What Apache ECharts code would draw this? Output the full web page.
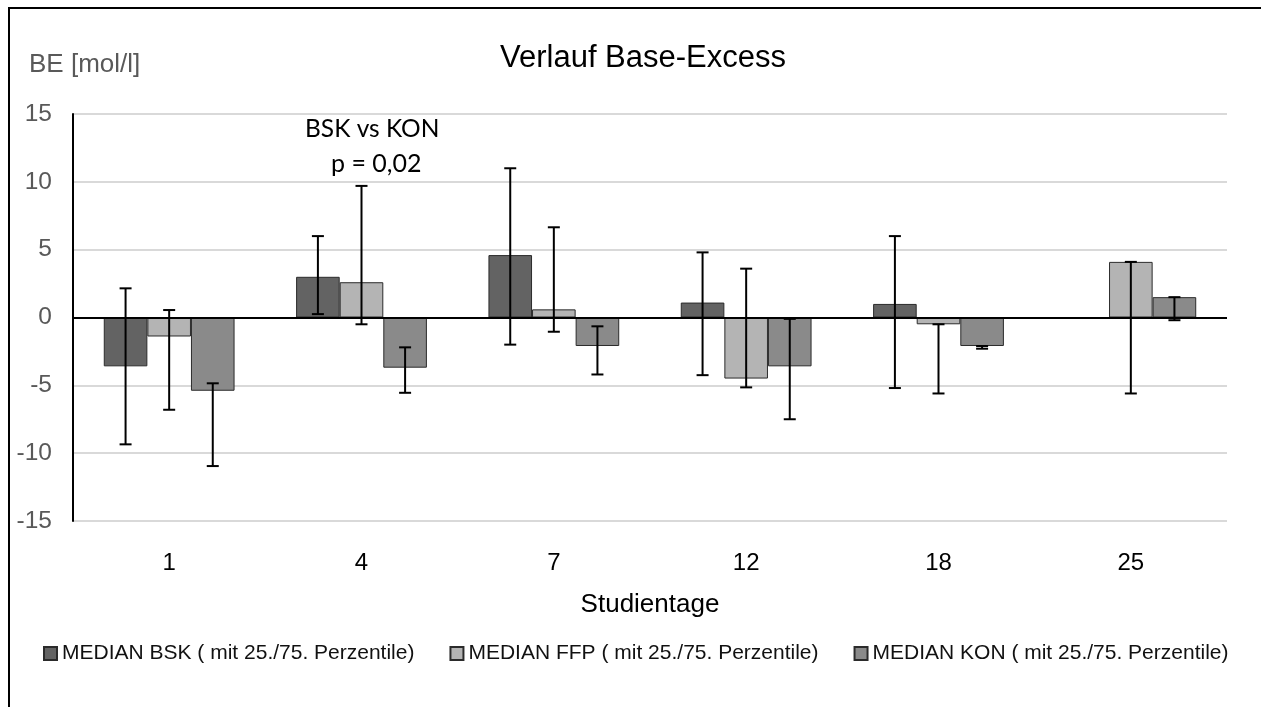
<!DOCTYPE html>
<html>
<head>
<meta charset="utf-8">
<script src="https://cdn.jsdelivr.net/npm/echarts@6/dist/echarts.min.js"></script>
<style>
  html, body { margin: 0; padding: 0; background: #fff; }
  #chart { width: 1261px; height: 707px; }
</style>
</head>
<body>
<div id="chart"></div>
<script>
// Study days on the category axis
const days = ['1', '4', '7', '12', '18', '25'];

// Median base excess per group, with 25th / 75th percentiles ('-' = no value)
const bskMedian = [-3.6, 3.0, 4.6, 1.1, 1.0, '-'];
const bskQ25    = [-9.35, 0.25, -2.0, -4.25, -5.2, '-'];
const bskQ75    = [2.15, 6.0, 11.0, 4.8, 6.0, '-'];

const ffpMedian = [-1.4, 2.6, 0.6, -4.5, -0.5, 4.1];
const ffpQ25    = [-6.8, -0.5, -1.05, -5.15, -5.6, -5.6];
const ffpQ75    = [0.55, 9.7, 6.65, 3.6, -0.5, 4.1];

const konMedian = [-5.4, -3.7, -2.1, -3.6, -2.1, 1.5];
const konQ25    = [-10.95, -5.55, -4.2, -7.5, -2.3, -0.2];
const konQ75    = [-4.85, -2.2, -0.65, -0.1, -2.1, 1.5];

const seriesNames = [
  'MEDIAN BSK ( mit 25./75. Perzentile)',
  'MEDIAN FFP ( mit 25./75. Perzentile)',
  'MEDIAN KON ( mit 25./75. Perzentile)'
];
const yTicks = { min: -15, max: 15, interval: 5 };

const ARIAL = '"Liberation Sans", Arial, sans-serif';
const NOTE_FONT = 'Lato, "Noto Sans", sans-serif';
const CATEGORY_GAP = 0.32;
const fills = ['#636363', '#b4b4b4', '#8a8a8a'];

function errorSeries(k, lows, highs) {
  const data = days.map((d, i) => [i, lows[i], highs[i]]);
  return {
    type: 'custom',
    name: seriesNames[k] + ' err',
    z: 5,
    silent: true,
    data: data,
    encode: { x: 0, y: [1, 2] },
    renderItem: function (params, api) {
      const lo = api.value(1), hi = api.value(2);
      if (isNaN(lo) || isNaN(hi)) return null;
      const xi = api.value(0);
      const pLo = api.coord([xi, lo]);
      const pHi = api.coord([xi, hi]);
      const band = api.size([1, 0])[0];
      const bw = band * (1 - CATEGORY_GAP) / 3;
      const x = pLo[0] + (k - 1) * bw;
      const cap = 6;
      const st = { stroke: '#000', lineWidth: 2 };
      return {
        type: 'group',
        children: [
          { type: 'line', shape: { x1: x, y1: pHi[1], x2: x, y2: pLo[1] }, style: st },
          { type: 'line', shape: { x1: x - cap, y1: pHi[1], x2: x + cap, y2: pHi[1] }, style: st },
          { type: 'line', shape: { x1: x - cap, y1: pLo[1], x2: x + cap, y2: pLo[1] }, style: st }
        ]
      };
    }
  };
}

function barSeries(k, values) {
  const s = {
    type: 'bar',
    name: seriesNames[k],
    data: values,
    barGap: '0%',
    barCategoryGap: (CATEGORY_GAP * 100) + '%',
    itemStyle: { color: fills[k], borderColor: '#2b2b2b', borderWidth: 1 },
    emphasis: { disabled: true }
  };
  if (k === 0) {
    // zero line across the plot
    s.markLine = {
      silent: true,
      symbol: 'none',
      label: { show: false },
      lineStyle: { color: '#000', width: 2, type: 'solid' },
      data: [{ yAxis: 0 }]
    };
  }
  return s;
}

const chart = echarts.init(document.getElementById('chart'), null, { renderer: 'canvas' });

chart.setOption({
  animation: false,
  backgroundColor: '#fff',
  title: {
    text: 'Verlauf Base-Excess',
    left: 495,
    top: 38,
    textStyle: { fontFamily: ARIAL, fontSize: 31, fontWeight: 'normal', color: '#000' }
  },
  grid: { left: 73, right: 34, top: 114, bottom: 186, containLabel: false },
  legend: {
    data: seriesNames,
    left: 43,
    top: 643,
    padding: 0,
    icon: 'rect',
    itemWidth: 13,
    itemHeight: 13,
    itemGap: 35,
    textStyle: { fontFamily: ARIAL, fontSize: 21, color: '#111' }
  },
  xAxis: {
    type: 'category',
    data: days,
    position: 'bottom',
    axisLine: { show: false, onZero: false },
    axisTick: { show: false },
    axisLabel: { interval: 0, margin: 30, fontFamily: ARIAL, fontSize: 24, color: '#000' },
    name: 'Studientage',
    nameLocation: 'middle',
    nameGap: 71,
    nameTextStyle: { fontFamily: ARIAL, fontSize: 26, color: '#000' }
  },
  yAxis: {
    type: 'value',
    min: yTicks.min,
    max: yTicks.max,
    interval: yTicks.interval,
    axisLine: { show: true, lineStyle: { color: '#000', width: 2 } },
    axisTick: { show: false },
    axisLabel: { margin: 21, fontFamily: ARIAL, fontSize: 24.5, color: '#595959' },
    splitLine: { show: true, lineStyle: { color: '#d9d9d9', width: 2 } }
  },
  graphic: [
    {
      type: 'rect',
      shape: { x: 9, y: 8, width: 1400, height: 900 },
      style: { fill: 'none', stroke: '#000', lineWidth: 2 },
      silent: true
    },
    {
      type: 'text',
      left: 29, top: 52,
      style: { text: 'BE [mol/l]', font: '26px ' + ARIAL, fill: '#595959' }
    },
    {
      type: 'text',
      left: 305, top: 117,
      style: { text: 'BSK vs KON', font: '24.5px ' + NOTE_FONT, fill: '#000' }
    },
    {
      type: 'text',
      left: 331, top: 151,
      style: { text: 'p = 0,02', font: '25px ' + NOTE_FONT, fill: '#000' }
    }
  ],
  series: [
    barSeries(0, bskMedian),
    barSeries(1, ffpMedian),
    barSeries(2, konMedian),
    errorSeries(0, bskQ25, bskQ75),
    errorSeries(1, ffpQ25, ffpQ75),
    errorSeries(2, konQ25, konQ75)
  ]
});
</script>
</body>
</html>
